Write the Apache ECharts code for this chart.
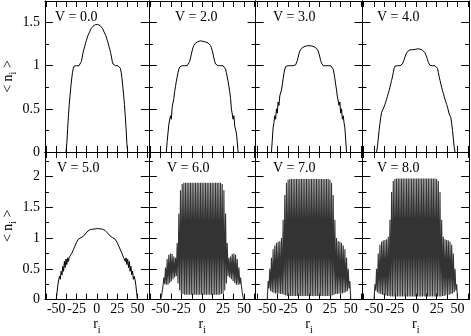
<!DOCTYPE html>
<html><head><meta charset="utf-8">
<script src="https://cdn.jsdelivr.net/npm/echarts@6/dist/echarts.min.js"></script>
<style>html,body{margin:0;padding:0;background:#fff}#c{width:471px;height:336px}</style>
</head><body><div id="c"></div>
<script>
const sites = [-50,-49,-48,-47,-46,-45,-44,-43,-42,-41,-40,-39,-38,-37,-36,-35,-34,-33,-32,-31,-30,-29,-28,-27,-26,-25,-24,-23,-22,-21,-20,-19,-18,-17,-16,-15,-14,-13,-12,-11,-10,-9,-8,-7,-6,-5,-4,-3,-2,-1,0,1,2,3,4,5,6,7,8,9,10,11,12,13,14,15,16,17,18,19,20,21,22,23,24,25,26,27,28,29,30,31,32,33,34,35,36,37,38,39,40,41,42,43,44,45,46,47,48,49,50];
const panelLabels = ['V = 0.0','V = 2.0','V = 3.0','V = 4.0','V = 5.0','V = 6.0','V = 7.0','V = 8.0'];

const nV0 = [null,null,null,null,null,null,null,null,null,null,null,null,
0,0.10,0.27,0.42,0.55,0.66,0.76,0.85,0.92,0.97,
0.995,1.0,1.0,1.0,1.0,1.0,1.0,
1.005,1.02,1.05,1.10,1.15,1.19,1.22,1.26,1.29,1.32,
1.35,1.37,1.39,1.41,1.43,1.445,1.455,1.465,1.47,1.475,1.478,
1.48,
1.478,1.475,1.47,1.465,1.455,1.445,1.43,1.41,1.39,1.37,1.35,
1.32,1.29,1.26,1.22,1.19,1.15,1.10,1.05,1.02,1.005,
1.0,1.0,1.0,1.0,1.0,1.0,0.995,
0.97,0.92,0.85,0.76,0.66,0.55,0.42,0.27,0.10,0,
null,null,null,null,null,null,null,null,null,null,null,null];

const nV2 = [null,null,null,null,null,null,null,
0,0.12,0.22,0.32,0.30,0.42,0.38,0.52,0.50,0.62,0.70,0.76,0.82,0.87,0.92,0.96,0.985,0.995,
1.0,1.0,1.0,1.0,1.0,1.0,1.0,1.0,
1.005,1.02,1.05,1.09,1.135,1.175,1.21,1.235,1.25,1.262,1.265,1.272,1.28,1.275,1.28,1.288,1.282,
1.285,
1.282,1.288,1.28,1.275,1.28,1.272,1.265,1.262,1.25,1.235,1.21,1.175,1.135,1.09,1.05,1.02,1.005,
1.0,1.0,1.0,1.0,1.0,1.0,1.0,1.0,
0.995,0.985,0.96,0.92,0.87,0.82,0.76,0.70,0.62,0.50,0.52,0.38,0.42,0.30,0.32,0.22,0.12,0,
null,null,null,null,null,null,null];

const nV3 = [null,null,null,null,null,
0,0.14,0.28,0.34,0.42,0.38,0.50,0.45,0.58,0.54,0.65,0.64,0.72,0.78,0.85,0.91,0.96,0.99,
1.0,1.0,1.0,1.0,1.0,1.0,1.0,1.0,1.0,1.0,1.0,
1.01,1.03,1.06,1.10,1.14,1.17,1.19,1.20,1.21,1.215,1.22,1.228,1.222,1.23,1.235,1.228,
1.232,
1.228,1.235,1.23,1.222,1.228,1.22,1.215,1.21,1.20,1.19,1.17,1.14,1.10,1.06,1.03,1.01,
1.0,1.0,1.0,1.0,1.0,1.0,1.0,1.0,1.0,1.0,1.0,
0.99,0.96,0.91,0.85,0.78,0.72,0.64,0.65,0.54,0.58,0.45,0.50,0.38,0.42,0.34,0.28,0.14,0,
null,null,null,null,null];

const nV4 = [null,null,null,
0,0.06,0.15,0.25,0.33,0.40,0.46,0.44,0.50,0.52,0.55,0.58,0.61,0.645,0.68,0.71,0.75,0.79,0.83,0.87,0.92,0.97,0.995,
1.0,1.0,1.0,1.0,1.0,1.0,1.0,
1.005,1.02,1.04,1.07,1.10,1.13,1.15,1.165,1.175,1.18,1.184,1.188,1.192,1.186,1.19,1.196,1.188,
1.19,
1.188,1.196,1.19,1.186,1.192,1.188,1.184,1.18,1.175,1.165,1.15,1.13,1.10,1.07,1.04,1.02,1.005,
1.0,1.0,1.0,1.0,1.0,1.0,1.0,
0.995,0.97,0.92,0.87,0.83,0.79,0.75,0.71,0.68,0.645,0.61,0.58,0.55,0.52,0.50,0.44,0.46,0.40,0.33,0.25,0.15,0.06,0,
null,null,null];

const nV5 = [0,0.12,0.24,0.32,0.38,0.33,0.46,0.40,0.54,0.46,
0.62,0.52,0.66,0.57,0.68,0.62,0.69,0.68,0.72,0.75,
0.78,0.81,0.84,0.87,0.90,0.93,0.96,0.98,0.99,1.0,
1.005,1.01,1.015,1.025,1.04,1.055,1.07,1.085,1.10,1.115,
1.125,1.135,1.14,1.145,1.15,1.145,1.15,1.155,1.15,1.155,
1.158,
1.155,1.15,1.155,1.15,1.145,1.15,1.145,1.14,1.135,1.125,
1.115,1.10,1.085,1.07,1.055,1.04,1.025,1.015,1.01,1.005,
1.0,0.99,0.98,0.96,0.93,0.90,0.87,0.84,0.81,0.78,
0.75,0.72,0.68,0.69,0.62,0.68,0.57,0.66,0.52,0.62,
0.46,0.54,0.40,0.46,0.33,0.38,0.32,0.24,0.12,0];

const nV6 = [0,0.04,0.12,0.22,0.36,0.25,0.52,0.24,0.66,0.24,
0.73,0.27,0.75,0.30,0.74,0.33,0.70,0.36,0.68,0.38,
0.92,0.26,1.40,0.15,1.78,0.10,1.88,0.09,1.90,0.08,
1.90,0.08,1.90,0.08,1.90,0.08,1.90,0.08,1.90,0.08,1.90,0.08,1.90,0.08,1.90,0.08,1.90,0.08,1.90,0.08,
1.90,
0.08,1.90,0.08,1.90,0.08,1.90,0.08,1.90,0.08,1.90,0.08,1.90,0.08,1.90,0.08,1.90,0.08,1.90,0.08,1.90,
0.08,1.90,0.09,1.88,0.10,1.78,0.15,1.40,0.26,0.92,
0.38,0.68,0.36,0.70,0.33,0.74,0.30,0.75,0.27,0.73,
0.24,0.66,0.24,0.52,0.25,0.36,0.22,0.12,0.04,0];

const nV7 = [0,0.30,0.18,0.50,0.14,0.68,0.12,0.82,0.11,0.88,
0.10,0.92,0.10,0.94,0.10,0.95,0.09,1.00,0.09,1.30,
0.08,1.70,0.07,1.90,0.06,1.95,0.06,1.96,0.06,1.96,
0.06,1.96,0.06,1.96,0.06,1.96,0.06,1.96,0.06,1.96,0.06,1.96,0.06,1.96,0.06,1.96,0.06,1.96,0.06,1.96,
0.06,
1.96,0.06,1.96,0.06,1.96,0.06,1.96,0.06,1.96,0.06,1.96,0.06,1.96,0.06,1.96,0.06,1.96,0.06,1.96,0.06,
1.96,0.06,1.96,0.06,1.95,0.06,1.90,0.07,1.70,0.08,
1.30,0.09,1.00,0.09,0.95,0.10,0.94,0.10,0.92,0.10,
0.88,0.11,0.82,0.12,0.68,0.14,0.50,0.18,0.30,0];

const nV8 = [0,0.25,0.15,0.50,0.12,0.75,0.10,0.89,0.09,0.94,
0.08,0.96,0.07,0.97,0.07,0.98,0.06,1.02,0.06,1.30,
0.05,1.75,0.05,1.93,0.05,1.96,0.05,1.97,0.05,1.97,
0.05,1.97,0.05,1.97,0.05,1.97,0.05,1.97,0.05,1.97,0.05,1.97,0.05,1.97,0.05,1.97,0.05,1.97,0.05,1.97,
0.05,
1.97,0.05,1.97,0.05,1.97,0.05,1.97,0.05,1.97,0.05,1.97,0.05,1.97,0.05,1.97,0.05,1.97,0.05,1.97,0.05,
1.97,0.05,1.97,0.05,1.96,0.05,1.93,0.05,1.75,0.05,
1.30,0.06,1.02,0.06,0.98,0.07,0.97,0.07,0.96,0.08,
0.94,0.09,0.89,0.10,0.75,0.12,0.50,0.15,0.25,0];

const xTickValues = [-62.5,-50,-37.5,-25,-12.5,0,12.5,25,37.5,50,62.5];
const xLabelValues = [-50,-25,0,25,50];
const yMajorTop = [0,0.5,1,1.5];
const yMinorTop = [0.25,0.75,1.25];
const yMajorBottom = [0,0.5,1,1.5,2];
const yMinorBottom = [0.25,0.75,1.25,1.75,2.25];

const profiles = [nV0,nV2,nV3,nV4,nV5,nV6,nV7,nV8];
const font = 'Liberation Serif';
const colLeft = [42, 148.8, 255.6, 362.4];
const rowTop = [1, 152];
const panelW = 106.8, panelH = 151;
const labelPos = [[55,10],[175,10],[273,10],[377,10],[57,161],[167,161],[273,161],[377,161]];

const rich = {
  b: {fontFamily: font, fontSize: 14, color: '#000', lineHeight: 16, verticalAlign: 'top'},
  s: {fontFamily: font, fontSize: 10, color: '#000', lineHeight: 10, padding: [7.5,0,0,0], verticalAlign: 'top'}
};

const grid = [], xAxis = [], yAxis = [], series = [], title = [];
for (let g = 0; g < 8; g++) {
  const row = g >> 2, col = g % 4;
  grid.push({left: colLeft[col], top: rowTop[row], width: panelW, height: panelH});
  const bottomRow = row === 1;
  const yMax = bottomRow ? 2.4 : 1.75;
  const yMaj = bottomRow ? yMajorBottom : yMajorTop;
  const yMin = bottomRow ? yMinorBottom : yMinorTop;
  const lineStyle = {color: '#000', width: 1};
  ['bottom','top'].forEach(pos => {
    const showLab = pos === 'bottom' && bottomRow;
    xAxis.push({
      type: 'value', gridIndex: g, position: pos, min: -64, max: 64,
      axisLine: {show: true, onZero: false, lineStyle},
      axisTick: {show: true, inside: true, length: 6, customValues: xTickValues, lineStyle},
      axisLabel: {show: showLab, customValues: xLabelValues, margin: 3, color: '#000', fontFamily: font, fontSize: 14},
      splitLine: {show: false},
      name: showLab ? '{b|r}{s|i}' : '', nameLocation: 'middle', nameGap: 15,
      nameTextStyle: {rich}
    });
  });
  ['left','right'].forEach(pos => {
    const showLab = pos === 'left' && col === 0;
    yAxis.push({
      type: 'value', gridIndex: g, position: pos, min: 0, max: yMax,
      axisLine: {show: true, onZero: false, lineStyle},
      axisTick: {show: true, inside: true, length: 8, customValues: yMaj, lineStyle},
      axisLabel: {show: showLab, customValues: yMaj, margin: 5, color: '#000', fontFamily: font, fontSize: 14},
      splitLine: {show: false},
      name: showLab ? '{b|< n}{s|i}{b| >}' : '', nameLocation: 'middle', nameGap: 25, nameRotate: 90,
      nameTextStyle: {rich}
    });
    yAxis.push({
      type: 'value', gridIndex: g, position: pos, min: 0, max: yMax,
      axisLine: {show: false, onZero: false},
      axisTick: {show: true, inside: true, length: 4, customValues: yMin, lineStyle},
      axisLabel: {show: false},
      splitLine: {show: false}
    });
  });
  const dense = g >= 5;
  series.push({
    type: 'line', xAxisIndex: 2 * g, yAxisIndex: 4 * g,
    data: sites.map((r, i) => [r, profiles[g][i]]),
    showSymbol: false, symbol: 'none', silent: true,
    lineStyle: {color: dense ? '#333' : '#000', width: dense ? 1.1 : 1}
  });
  title.push({
    text: panelLabels[g], left: labelPos[g][0], top: labelPos[g][1], padding: 0,
    textStyle: {fontFamily: font, fontSize: 14, fontWeight: 'normal', color: '#000'}
  });
}

const chart = echarts.init(document.getElementById('c'), null, {renderer: 'canvas'});
chart.setOption({animation: false, backgroundColor: '#fff', title, grid, xAxis, yAxis, series});
</script></body></html>
